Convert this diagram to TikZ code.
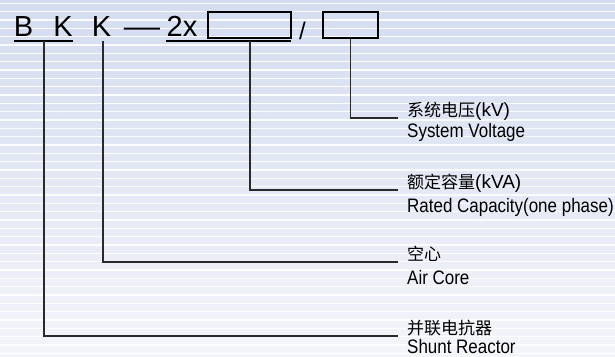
\documentclass[tikz,border=0pt]{standalone}
\usepackage{fontspec}
\setmainfont{Liberation Sans}
\newfontfamily\cjk{Noto Sans CJK SC}
\newfontfamily\narrowsans[FakeStretch=0.87]{Liberation Sans}
\definecolor{bgtop}{HTML}{D4DCF0}
\definecolor{bgbot}{HTML}{F4F5FA}
\definecolor{ink}{HTML}{2A2A2A}
\newcommand{\latinpart}[1]{{\fontspec{Liberation Sans}\fontsize{19}{20}\selectfont #1}}
\begin{document}
\begin{tikzpicture}[x=1pt,y=-1pt,
  big/.style={font=\fontsize{29}{30}\selectfont, inner sep=0pt, anchor=base, text=black},
  slashtxt/.style={font=\fontsize{24}{25}\selectfont, inner sep=0pt, anchor=base, text=black},
  enlab/.style={font=\narrowsans\fontsize{19.5}{21}\selectfont, inner sep=0pt, anchor=base west, text=black},
  cnlab/.style={font=\cjk\fontsize{17}{20}\selectfont, inner sep=0pt, anchor=base west, text=black},
  codebox/.style={draw=black, line width=1.1pt, inner sep=0pt},
  conn/.style={draw=ink, line width=1.3pt},
  uline/.style={draw=black, line width=1.2pt}]
\useasboundingbox (0,0) rectangle (615,356);
% background stripes
\shade[top color=bgtop, bottom color=bgbot] (0,0) rectangle (615,356);
\foreach \i in {0,...,42} {
  \fill[white, opacity=0.9] (0,{2.6+8.333*\i}) rectangle (615,{4.1+8.333*\i});
}
% code row
\node[big] (B) at (23.5,36) {B};
\node[big] (K1) at (63,36) {K};
\node[big] (K2) at (101.5,36) {K};
\node[big] (dash) at (142,36) {\scalebox{1.25}[1]{—}};
\node[big] (two) at (182,36) {2x};
\node[codebox, minimum width=83pt, minimum height=26pt] (box1) at (249.5,25) {};
\node[slashtxt] (sl) at (302.5,39) {/};
\node[codebox, minimum width=55pt, minimum height=26pt] (box2) at (350.5,25) {};
% underlines
\coordinate (ub1) at (14,41);
\coordinate (ub2) at (73,41);
\coordinate (u21) at (166,41);
\coordinate (u22) at (291,41);
\draw[uline] (ub1) -- (ub2);
\draw[uline] (u21) -- (u22);
% connector start points
\coordinate (sBK) at (44,41);
\coordinate (sK) at (103,41);
\coordinate (s2x) at (250,41);
% connector end points
\coordinate (e1) at (398,118);
\coordinate (e2) at (398,190);
\coordinate (e3) at (398,262);
\coordinate (e4) at (398,336);
\draw[conn] (box2.south) |- (e1);
\draw[conn] (s2x) |- (e2);
\draw[conn] (sK) |- (e3);
\draw[conn] (sBK) |- (e4);
% labels
\node[cnlab] (c1) at (407,116) {系统电压\latinpart{(kV)}};
\node[enlab] (t1) at (407,137.5) {System Voltage};
\node[cnlab] (c2) at (407,188) {额定容量\latinpart{(kVA)}};
\node[enlab] (t2) at (407,212) {Rated Capacity(one phase)};
\node[cnlab] (c3) at (407,260.5) {空心};
\node[enlab] (t3) at (407,284) {Air Core};
\node[cnlab] (c4) at (407,334) {并联电抗器};
\node[enlab] (t4) at (407,353) {Shunt Reactor};
\end{tikzpicture}
\end{document}
